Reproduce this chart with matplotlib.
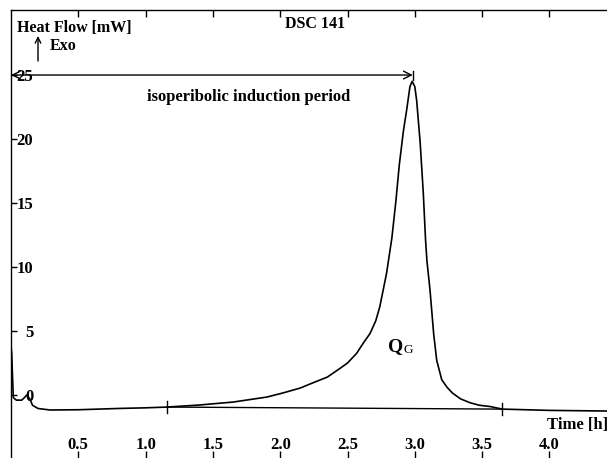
import matplotlib
matplotlib.use("Agg")
import matplotlib.pyplot as plt

# ---- data ----
time_h = [0.0, 0.005, 0.017, 0.04, 0.08, 0.10, 0.117, 0.14, 0.16, 0.20, 0.29,
          0.5, 0.8, 1.0, 1.16, 1.4, 1.65, 1.9, 2.02, 2.15, 2.24, 2.35, 2.444, 2.5,
          2.568, 2.62, 2.667, 2.71, 2.74, 2.79, 2.83, 2.86, 2.885, 2.915, 2.94,
          2.964, 2.98, 3.0, 3.014, 3.04, 3.063, 3.08, 3.09, 3.113, 3.14, 3.163,
          3.20, 3.24, 3.28, 3.34, 3.41, 3.48, 3.56, 3.65, 4.0, 4.43]
heat_flow_mw = [3.8, 3.3, -0.2, -0.4, -0.4, -0.2, 0.0, -0.3, -0.8, -1.05, -1.17,
                -1.15, -1.05, -1.0, -0.94, -0.78, -0.55, -0.16, 0.16, 0.55, 0.94, 1.4, 2.08, 2.5,
                3.26, 4.1, 4.8, 5.8, 6.9, 9.5, 12.3, 15.2, 18.0, 20.6, 22.3,
                24.1, 24.5, 24.1, 23.0, 19.7, 15.8, 12.1, 10.5, 8.2, 4.8, 2.7,
                1.2, 0.6, 0.15, -0.3, -0.6, -0.8, -0.9, -1.1, -1.2, -1.25]

baseline_t = [1.16, 3.65]
baseline_v = [-0.94, -1.1]

induction_start = 0.0
induction_end = 2.985
induction_level = 25

xtick_values = [0.5, 1.0, 1.5, 2.0, 2.5, 3.0, 3.5, 4.0]
xtick_labels = ["0.5", "1.0", "1.5", "2.0", "2.5", "3.0", "3.5", "4.0"]
ytick_values = [0, 5, 10, 15, 20, 25]
ytick_labels = ["0", "5", "10", "15", "20", "25"]

# ---- figure ----
plt.rcParams['font.family'] = ['Liberation Serif', 'DejaVu Serif']
plt.rcParams['font.weight'] = 'bold'

W, H = 607, 458
fig = plt.figure(figsize=(W / 100, H / 100), dpi=100)
ax = fig.add_axes([11 / W, 0, 596 / W, 448 / H])
ax.set_xlim(0, 596 / 134.6)
ax.set_ylim(-4.92, 30.08)

for s in ['bottom', 'right']:
    ax.spines[s].set_visible(False)
for s in ['top', 'left']:
    ax.spines[s].set_linewidth(1.0)

ax.plot(time_h, heat_flow_mw, color='black', lw=1.2)
ax.plot(baseline_t, baseline_v, color='black', lw=1.0)
for bt, bv in zip(baseline_t, baseline_v):
    ax.plot([bt, bt], [bv - 0.45, bv + 0.45], color='black', lw=1.0)

ax.annotate('', xy=(induction_end, induction_level), xytext=(induction_start, induction_level),
            arrowprops=dict(arrowstyle='<->', lw=1.0, color='black',
                            shrinkA=0, shrinkB=0, mutation_scale=14))
ax.plot([induction_end, induction_end], [induction_level - 0.4, induction_level + 0.3],
        color='black', lw=1.0)

ax.set_xticks(xtick_values)
ax.set_xticklabels(xtick_labels, fontsize=12, fontweight='bold')
ax.set_yticks(ytick_values)
ax.set_yticklabels(ytick_labels, fontsize=12, fontweight='bold')
ax.tick_params(axis='x', direction='in', top=True, bottom=True, labeltop=False,
               length=5, width=1.0, pad=-15)
ax.tick_params(axis='y', direction='in', length=4, width=1.0, pad=-16)

def px(x, y):
    return x / W, 1 - y / H

fig.text(*px(17, 28), 'Heat Flow [mW]', fontsize=11.5, fontweight='bold', va='center', ha='left')
fig.text(*px(50, 46), 'Exo', fontsize=11.5, fontweight='bold', va='center', ha='left')
ax.annotate('', xy=px(38, 36), xytext=px(38, 61), xycoords='figure fraction',
            textcoords='figure fraction',
            arrowprops=dict(arrowstyle='->', lw=1.0, color='black', shrinkA=0, shrinkB=0,
                            mutation_scale=10))
fig.text(*px(315, 24), 'DSC 141', fontsize=11.5, fontweight='bold', va='center', ha='center')
fig.text(*px(249, 97), 'isoperibolic induction period', fontsize=12, fontweight='bold',
         va='center', ha='center')
fig.text(*px(388, 347), 'Q', fontsize=14, fontweight='bold', va='center', ha='left')
fig.text(*px(403, 350), 'G', fontsize=9.5, fontweight='normal', va='center', ha='left')
fig.text(*px(547, 425), 'Time [h]', fontsize=12, fontweight='bold', va='center', ha='left')

fig.savefig('out.png', dpi=100)
